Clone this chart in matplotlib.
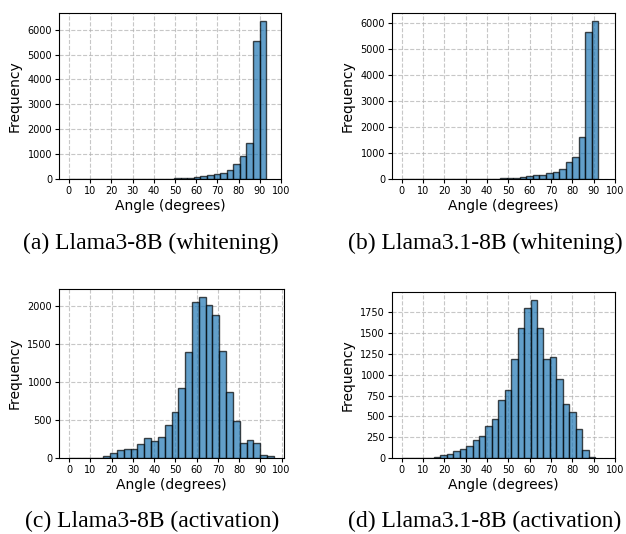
'''
angle histograms, 4 panels
'''

# bin counts, 30 bins from 0 to the max angle
max_angle = {'a': 93.0, 'b': 92.2, 'c': 96.3, 'd': 90.6}

counts_a = [0, 0, 0, 0, 0, 0, 0, 0, 0, 0, 0, 0, 0, 3, 8, 15, 30, 40, 60, 90,
            110, 150, 220, 250, 355, 610, 935, 1455, 5565, 6355]
counts_b = [0, 0, 0, 0, 0, 0, 0, 0, 0, 0, 0, 0, 5, 8, 12, 20, 35, 55, 75, 100,
            140, 145, 225, 285, 380, 650, 830, 1600, 5655, 6075]
counts_c = [0, 0, 0, 0, 5, 30, 70, 100, 115, 125, 180, 260, 230, 282, 440, 610,
            922, 1400, 2049, 2119, 2012, 1885, 1412, 873, 481, 202, 237, 192, 42, 32]
counts_d = [5, 0, 0, 0, 0, 8, 35, 48, 88, 114, 150, 222, 270, 385, 468, 692,
            818, 1187, 1568, 1805, 1900, 1568, 1185, 1208, 948, 645, 558, 346, 91, 10]

captions = {'a': '(a) Llama3-8B (whitening)',
            'b': '(b) Llama3.1-8B (whitening)',
            'c': '(c) Llama3-8B (activation)',
            'd': '(d) Llama3.1-8B (activation)'}

xticks = list(range(0, 101, 10))


def draw_hist(ax, counts, amax):
    edges = np.linspace(0, amax, len(counts) + 1)
    centers = 0.5 * (edges[:-1] + edges[1:])
    ax.hist(centers, bins=edges, weights=counts, alpha=0.7, edgecolor='black')
    ax.set_xticks(xticks)
    ax.set_xlabel('Angle (degrees)', fontsize=10, labelpad=2)
    ax.set_ylabel('Frequency', fontsize=10)
    ax.tick_params(labelsize=7, length=3, pad=2)
    ax.grid(True, linestyle='--', alpha=0.7)
    ax.set_axisbelow(True)


if __name__ == '__main__':
    import numpy as np
    import matplotlib
    matplotlib.use('Agg')
    import matplotlib.pyplot as plt

    W, H = 626, 534
    fig = plt.figure(figsize=(W / 100, H / 100), dpi=100)

    # pixel boxes: left, right, top, bottom
    boxes = {'a': (59, 281, 13, 179), 'b': (392, 615, 13, 179),
             'c': (59, 284, 289, 458), 'd': (392, 615, 292, 458)}
    data = {'a': counts_a, 'b': counts_b, 'c': counts_c, 'd': counts_d}
    cap_pos = {'a': (151, 243), 'b': (485, 243), 'c': (152, 521), 'd': (485, 521)}

    for k in ['a', 'b', 'c', 'd']:
        l, r, t, b = boxes[k]
        ax = fig.add_axes([l / W, 1 - b / H, (r - l) / W, (b - t) / H])
        draw_hist(ax, data[k], max_angle[k])
        cx, cy = cap_pos[k]
        fig.text(cx / W, 1 - cy / H, captions[k], ha='center', va='center',
                 fontsize=17, family='Liberation Serif')

    fig.savefig('out.png', dpi=100)
